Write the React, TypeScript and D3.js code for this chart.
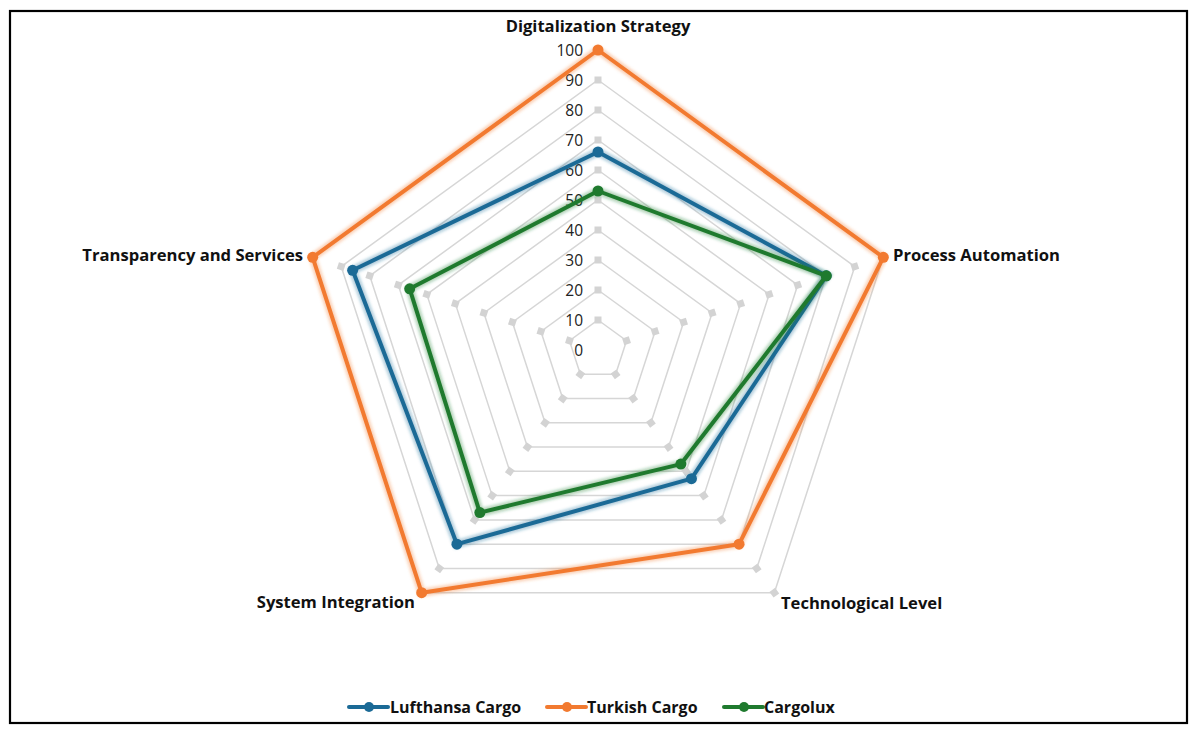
import React from "react";
import * as d3 from "d3";

const categories = [
  "Digitalization Strategy",
  "Process Automation",
  "Technological Level",
  "System Integration",
  "Transparency and Services",
];
const lufthansa = [66, 80, 53, 80, 86];
const turkish = [100, 100, 80, 100, 100];
const cargolux = [53, 80, 47, 67, 66];
const seriesNames = ["Lufthansa Cargo", "Turkish Cargo", "Cargolux"];
const seriesColors = ["#1b6a96", "#f27a30", "#1f7a2e"];
const ticks = [0, 10, 20, 30, 40, 50, 60, 70, 80, 90, 100];

const W = 1197;
const H = 733;
const cx = 598;
const cy = 350;
const R = 300;
const FONT = "'Open Sans', sans-serif";

export default function App() {
  const r = d3.scaleLinear().domain([0, 100]).range([0, R]);
  const n = categories.length;
  const ang = d3.scaleLinear().domain([0, n]).range([0, 2 * Math.PI]);
  const pt = (i: number, v: number): [number, number] => {
    const a = ang(i);
    return [cx + r(v) * Math.sin(a), cy - r(v) * Math.cos(a)];
  };
  const closed = d3.line<[number, number]>().curve(d3.curveLinearClosed);
  const allSeries = [lufthansa, turkish, cargolux];

  const labelPos = [
    { x: cx, y: 25, anchor: "middle" },
    { x: 893, y: 254, anchor: "start" },
    { x: 781, y: 602, anchor: "start" },
    { x: 415, y: 601, anchor: "end" },
    { x: 303, y: 254, anchor: "end" },
  ];

  const legendItems = [
    { x: 349, tx: 390 },
    { x: 547, tx: 587 },
    { x: 724, tx: 764 },
  ];

  return (
    <svg
      width={W}
      height={H}
      style={{ position: "absolute", left: 0, top: 0, background: "#fff" }}
    >
      <defs>
        <filter id="glow" x="-10%" y="-10%" width="120%" height="120%">
          <feGaussianBlur stdDeviation="1.6" />
        </filter>
      </defs>
      <rect x={0} y={0} width={W} height={H} fill="#fff" />
      <rect x={10} y={11} width={1177} height={712} fill="none" stroke="#000" strokeWidth={2.2} />

      {/* grid */}
      {ticks.slice(1).map((t) => (
        <path
          key={"g" + t}
          d={closed(d3.range(n).map((i) => pt(i, t))) || ""}
          fill="none"
          stroke="#d6d6d6"
          strokeWidth={1.5}
        />
      ))}
      {ticks.slice(1).map((t) =>
        d3.range(n).map((i) => {
          const [x, y] = pt(i, t);
          const deg = (ang(i) * 180) / Math.PI;
          return (
            <rect
              key={"m" + t + "-" + i}
              x={-3.5}
              y={-3.5}
              width={7}
              height={7}
              fill="#d3d3d3"
              transform={`translate(${x},${y}) rotate(${deg})`}
            />
          );
        })
      )}

      {/* tick labels */}
      {ticks.map((t) => (
        <text
          key={"t" + t}
          x={cx - 15}
          y={cy - r(t)}
          textAnchor="end"
          dominantBaseline="central"
          fontFamily={FONT}
          fontSize={15.5}
          fill="#222"
        >
          {t}
        </text>
      ))}

      {/* series */}
      {allSeries.map((s, si) => {
        const pts = s.map((v, i) => pt(i, v));
        const d = closed(pts) || "";
        return (
          <g key={"s" + si}>
            <path d={d} fill="none" stroke={seriesColors[si]} strokeOpacity={0.35} strokeWidth={8} filter="url(#glow)" />
            <path d={d} fill="none" stroke={seriesColors[si]} strokeWidth={4} strokeLinejoin="round" />
            {pts.map(([x, y], i) => (
              <circle key={i} cx={x} cy={y} r={5.5} fill={seriesColors[si]} />
            ))}
          </g>
        );
      })}

      {/* category labels */}
      {categories.map((c, i) => (
        <text
          key={"c" + i}
          x={labelPos[i].x}
          y={labelPos[i].y}
          textAnchor={labelPos[i].anchor as any}
          dominantBaseline="central"
          fontFamily={FONT}
          fontWeight={700}
          fontSize={16.6}
          fill="#111"
        >
          {c}
        </text>
      ))}

      {/* legend */}
      {seriesNames.map((name, i) => (
        <g key={"l" + i}>
          <line x1={legendItems[i].x} x2={legendItems[i].x + 39} y1={707} y2={707} stroke={seriesColors[i]} strokeWidth={4} strokeLinecap="round" />
          <circle cx={legendItems[i].x + 20} cy={707} r={5} fill={seriesColors[i]} />
          <text
            x={legendItems[i].tx}
            y={707}
            dominantBaseline="central"
            fontFamily={FONT}
            fontWeight={700}
            fontSize={16}
            fill="#111"
          >
            {name}
          </text>
        </g>
      ))}
    </svg>
  );
}
